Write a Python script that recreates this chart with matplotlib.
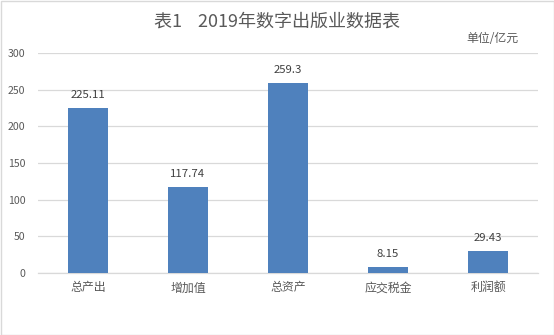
import matplotlib
matplotlib.use("Agg")
import matplotlib.pyplot as plt
from matplotlib.patches import Rectangle

plt.rcParams['font.family'] = ['Noto Sans CJK SC', 'DejaVu Sans']

# chart data
categories = ['总产出', '增加值', '总资产', '应交税金', '利润额']
values = [225.11, 117.74, 259.3, 8.15, 29.43]
value_labels = ['225.11', '117.74', '259.3', '8.15', '29.43']
y_ticks = [0, 50, 100, 150, 200, 250, 300]

text_color = '#595959'
bar_color = '#4F81BD'
grid_color = '#D9D9D9'

fig = plt.figure(figsize=(5.54, 3.35), dpi=100)
ax = fig.add_axes([38 / 554, 1 - 273 / 335, 500 / 554, 220 / 335])

x = list(range(len(categories)))
ax.bar(x, values, width=0.4, color=bar_color, zorder=3)

for xi, v, lab in zip(x, values, value_labels):
    ax.annotate(lab, (xi, v), xytext=(0, 8), textcoords='offset pixels',
                ha='center', va='bottom', fontsize=8.2, color='#404040')

ax.set_xlim(-0.5, len(categories) - 0.5)
ax.set_ylim(0, 300)
ax.set_yticks(y_ticks)
ax.set_xticks(x)
ax.set_xticklabels(categories, fontsize=8.6, color=text_color)
ax.tick_params(axis='y', labelsize=7.6, labelcolor=text_color, length=0, pad=9)
ax.tick_params(axis='x', length=0, pad=6)
ax.yaxis.grid(True, color=grid_color, linewidth=0.9, zorder=0)
for s in ['top', 'right', 'left']:
    ax.spines[s].set_visible(False)
ax.spines['bottom'].set_color(grid_color)
ax.spines['bottom'].set_linewidth(0.9)

fig.text(0.5, 1 - 22 / 335, '表1    2019年数字出版业数据表', ha='center', va='center',
         fontsize=13.0, color=text_color)
fig.text(492 / 554, 1 - 39 / 335, '单位/亿元', ha='center', va='center',
         fontsize=8.6, color=text_color)

fig.patches.append(Rectangle((0.5 / 554, 0.5 / 335), 553 / 554, 334 / 335,
                             transform=fig.transFigure, fill=False,
                             edgecolor='#D9D9D9', linewidth=1))

fig.savefig('out.png', dpi=100)
